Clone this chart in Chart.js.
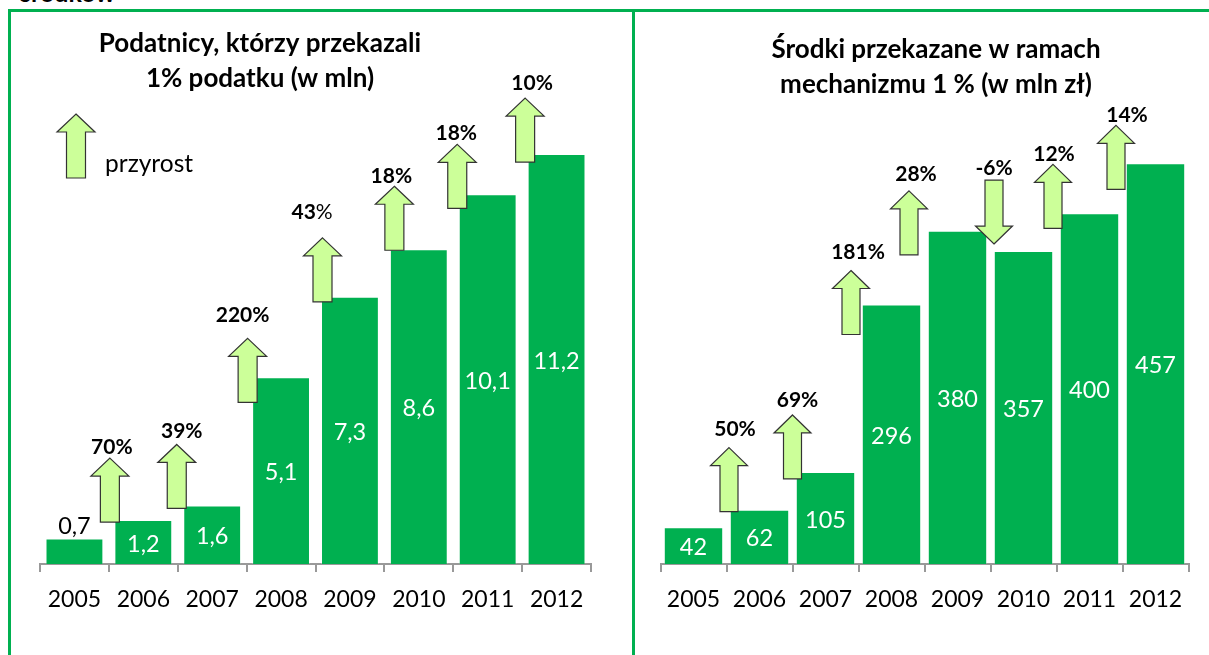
<!DOCTYPE html>
<html>
<head>
<meta charset="utf-8">
<script src="https://cdn.jsdelivr.net/npm/chart.js@4"></script>
<style>
    html, body { margin: 0; padding: 0; background: #fff; overflow: hidden; }
    body { width: 1209px; height: 655px; position: relative; font-family: Lato, sans-serif; }
    canvas { position: absolute; top: 0; }
    #chartLeft { left: 0; }
    #chartRight { left: 636px; }
    .line { position: absolute; background: #00B050; }
    #cutText { position: absolute; left: 20px; top: -20px; font: bold 25px Lato, sans-serif; color: #000; line-height: 24px; }
</style>
</head>
<body>
<div id="cutText">środków</div>
<div class="line" style="left:8px;top:9px;width:1201px;height:3px"></div>
<div class="line" style="left:8px;top:9px;width:3px;height:646px"></div>
<div class="line" style="left:632px;top:10px;width:3px;height:645px"></div>
<canvas id="chartLeft" width="632" height="655"></canvas>
<canvas id="chartRight" width="573" height="655"></canvas>
<script>
const years = ['2005', '2006', '2007', '2008', '2009', '2010', '2011', '2012'];

const taxpayers = [0.7, 1.2, 1.6, 5.1, 7.3, 8.6, 10.1, 11.2];
const taxpayersGrowth = ['70%', '39%', '220%', '43%', '18%', '18%', '10%'];
const taxpayersTitle = ['Podatnicy, którzy przekazali', '1% podatku (w mln)'];

const funds = [42, 62, 105, 296, 380, 357, 400, 457];
const fundsGrowth = ['50%', '69%', '181%', '28%', '-6%', '12%', '14%'];
const fundsTitle = ['Środki przekazane w ramach', 'mechanizmu 1 % (w mln zł)'];

const GREEN = '#00B050';
const ARROW_FILL = '#CCFF99';
const ARROW_LINE = '#333333';

// arrow nudges: dx from the category boundary, dy from the bar top, then label offset from the tip
const leftArrows = [
    { dx: 1, dy: 2, lx: 2, ly: -11 },
    { dx: -1, dy: 3, lx: 5, ly: -13 },
    { dx: 1, dy: 25, lx: -5, ly: -23 },
    { dx: 7, dy: 5, lx: -11, ly: -26, thinPercent: true },
    { dx: 10, dy: 1, lx: -3, ly: -10 },
    { dx: 4, dy: 14, lx: -1, ly: -11 },
    { dx: 3, dy: 8, lx: 7, ly: -15 }
];
const rightArrows = [
    { dx: 2.5, dy: 2, lx: 6, ly: -18 },
    { dx: 0, dy: 7, lx: 5, ly: -15 },
    { dx: -7.5, dy: 30, lx: 7, ly: -18 },
    { dx: -15.5, dy: 24, lx: 7, ly: -17 },
    { dx: 3.5, dy: -7, lx: 0, ly: -12, down: true },
    { dx: -3.5, dy: 15, lx: 1, ly: -10 },
    { dx: -6.5, dy: 26, lx: 11, ly: -10 }
];

function drawArrow(ctx, x, y, len, headW, shaftW, headH, down) {
    // y is the tip for an up arrow, the flat end for a down arrow
    const dir = down ? -1 : 1;
    const tip = down ? y + len : y;
    const end = down ? y : y + len;
    ctx.beginPath();
    ctx.moveTo(x, tip);
    ctx.lineTo(x + headW / 2, tip + dir * headH);
    ctx.lineTo(x + shaftW / 2, tip + dir * headH);
    ctx.lineTo(x + shaftW / 2, end);
    ctx.lineTo(x - shaftW / 2, end);
    ctx.lineTo(x - shaftW / 2, tip + dir * headH);
    ctx.lineTo(x - headW / 2, tip + dir * headH);
    ctx.closePath();
    ctx.fillStyle = ARROW_FILL;
    ctx.fill();
    ctx.lineWidth = 1.2;
    ctx.strokeStyle = ARROW_LINE;
    ctx.stroke();
}

const overlay = {
    id: 'overlay',
    afterDatasetsDraw(chart, args, opts) {
        const ctx = chart.ctx;
        const bars = chart.getDatasetMeta(0).data;
        const xScale = chart.scales.x;
        const step = xScale.getPixelForValue(1) - xScale.getPixelForValue(0);
        ctx.save();
        ctx.textAlign = 'center';
        ctx.textBaseline = 'middle';

        // value labels
        ctx.font = opts.valueFont;
        bars.forEach(function (bar, i) {
            const v = chart.data.datasets[0].data[i];
            const text = String(v).replace('.', ',');
            if (opts.outsideFirst && i === 0) {
                ctx.fillStyle = '#000';
                ctx.fillText(text, bar.x, bar.y - 12);
            } else {
                ctx.fillStyle = '#fff';
                ctx.fillText(text, bar.x, (bar.y + bar.base) / 2 + 2);
            }
        });

        // growth arrows, each hung on the bar it belongs to
        opts.arrows.forEach(function (a, i) {
            const bar = bars[i + 1];
            const x = xScale.getPixelForValue(i + 1) - step / 2 + a.dx;
            const topY = bar.y + a.dy - opts.len;
            drawArrow(ctx, x, topY, opts.len, opts.headW, opts.shaftW, opts.headH, a.down);
            ctx.fillStyle = '#000';
            ctx.font = opts.growthFont;
            if (a.thinPercent) {
                // this one label has a regular weight percent sign in the source
                const digits = opts.growth[i].replace('%', '');
                const w = ctx.measureText(digits).width;
                ctx.textAlign = 'left';
                ctx.fillText(digits, x + a.lx - 20, topY + a.ly);
                ctx.font = opts.growthFont.replace('bold ', '');
                ctx.fillText('%', x + a.lx - 20 + w, topY + a.ly);
                ctx.textAlign = 'center';
            } else {
                ctx.fillText(opts.growth[i], x + a.lx, topY + a.ly);
            }
        });

        // title
        ctx.font = opts.titleFont;
        ctx.fillStyle = '#000';
        opts.title.forEach(function (line, i) {
            ctx.fillText(line, opts.titleX, opts.titleY + i * opts.titleGap);
        });

        // legend on the left chart only
        if (opts.legend) {
            drawArrow(ctx, opts.legend.x, opts.legend.y, opts.len, opts.headW, opts.shaftW, opts.headH, false);
            ctx.textAlign = 'left';
            ctx.font = opts.legend.font;
            ctx.fillStyle = '#000';
            ctx.fillText(opts.legend.text, opts.legend.x + 29, opts.legend.y + 50);
        }
        ctx.restore();
    }
};

function makeChart(id, values, yMax, barPct, pad, overlayOpts) {
    const ctx = document.getElementById(id).getContext('2d');
    return new Chart(ctx, {
        type: 'bar',
        data: {
            labels: years,
            datasets: [{
                data: values,
                backgroundColor: GREEN,
                borderColor: 'rgba(255,255,255,0.2)',
                borderWidth: 1,
                barPercentage: barPct,
                categoryPercentage: 1
            }]
        },
        options: {
            responsive: false,
            animation: false,
            layout: { padding: pad },
            plugins: {
                legend: { display: false },
                tooltip: { enabled: false },
                overlay: overlayOpts
            },
            scales: {
                y: { display: false, min: 0, max: yMax },
                x: {
                    afterFit: function (scale) { scale.height = 50; },
                    grid: {
                        drawOnChartArea: false,
                        color: '#999999',
                        tickLength: 8,
                        lineWidth: 2
                    },
                    border: { color: '#999999', width: 2 },
                    ticks: {
                        color: '#000',
                        font: { family: 'Lato', size: 23 },
                        padding: 14,
                        maxRotation: 0,
                        autoSkip: false
                    }
                }
            }
        },
        plugins: [overlay]
    });
}

makeChart('chartLeft', taxpayers, 15, 0.84, { left: 40, right: 41, top: 15, bottom: 41 }, {
    arrows: leftArrows,
    growth: taxpayersGrowth,
    outsideFirst: true,
    len: 64, headW: 38, shaftW: 19, headH: 18,
    valueFont: '23.5px Lato',
    growthFont: 'bold 21px Lato',
    titleFont: 'bold 26px Lato',
    title: taxpayersTitle,
    titleX: 260, titleY: 44, titleGap: 35,
    legend: { x: 76, y: 114, text: 'przyrost', font: '24.5px Lato' }
});

makeChart('chartRight', funds, 600, 0.9, { left: 24.5, right: 20.5, top: 38, bottom: 41 }, {
    arrows: rightArrows,
    growth: fundsGrowth,
    outsideFirst: false,
    len: 64, headW: 37, shaftW: 18, headH: 18,
    valueFont: '23.5px Lato',
    growthFont: 'bold 21px Lato',
    titleFont: 'bold 26px Lato',
    title: fundsTitle,
    titleX: 300, titleY: 50, titleGap: 35
});
</script>
</body>
</html>
